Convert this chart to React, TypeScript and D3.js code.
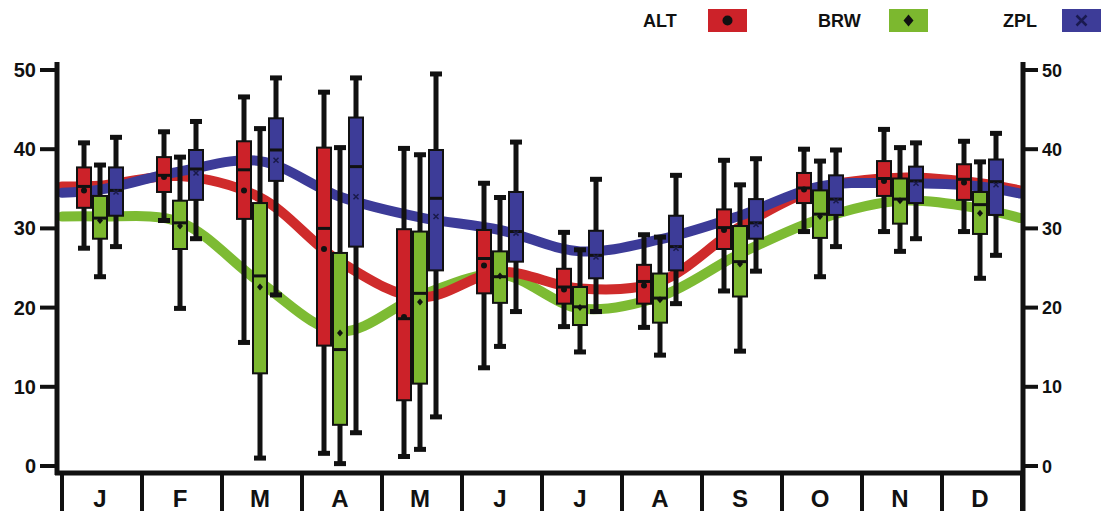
import React from "react";
import * as d3 from "d3";

const months = ["J", "F", "M", "A", "M", "J", "J", "A", "S", "O", "N", "D"];
const yTicks = [0, 10, 20, 30, 40, 50];
const stations = ["ALT", "BRW", "ZPL"];

// [low whisker, Q1, median, Q3, high whisker, mean]
const altBoxes = [
  [27.5, 32.6, 35.3, 37.7, 40.8, 34.8],
  [31, 34.6, 36.7, 39, 42.2, 36.5],
  [15.6, 31.2, 37.4, 41, 46.6, 34.8],
  [1.6, 15.2, 30, 40.2, 47.2, 27.4],
  [1.2, 8.3, 18.6, 29.9, 40.1, 18.8],
  [12.4, 21.8, 26.2, 29.8, 35.7, 25.3],
  [17.6, 20.5, 22.6, 24.9, 29.5, 22.3],
  [17.5, 20.5, 23.3, 25.4, 29.2, 22.8],
  [22.1, 27.4, 30.1, 32.4, 38.6, 29.8],
  [29.6, 33.2, 35.1, 37, 40, 34.9],
  [29.6, 34.1, 36.3, 38.5, 42.5, 36],
  [29.6, 33.6, 36.2, 38.1, 41, 35.8],
];
const brwBoxes = [
  [23.9, 28.7, 31.3, 34.1, 38, 31],
  [19.9, 27.4, 30.7, 33.5, 39, 30.3],
  [1, 11.7, 24, 33.2, 42.6, 22.6],
  [0.3, 5.2, 14.7, 26.9, 40.2, 16.8],
  [2.1, 10.4, 21.8, 29.6, 39.3, 20.7],
  [15.1, 20.6, 23.9, 27.1, 33.9, 24],
  [14.4, 17.8, 20.1, 22.6, 27.3, 20],
  [14, 18.1, 21.2, 24.3, 28.9, 21],
  [14.5, 21.4, 25.8, 30.3, 35.5, 25.5],
  [23.9, 28.8, 31.8, 34.8, 38.5, 31.5],
  [27.1, 30.6, 33.7, 36.3, 40.2, 33.5],
  [23.7, 29.3, 33, 34.6, 38.4, 31.9],
];
const zplBoxes = [
  [27.7, 31.6, 34.8, 37.7, 41.5, 34.6],
  [28.7, 33.6, 37.5, 39.9, 43.5, 37],
  [21.6, 36, 39.9, 43.9, 49, 38.6],
  [4.2, 27.7, 37.8, 44, 49, 34],
  [6.2, 24.7, 33.8, 39.9, 49.5, 31.5],
  [19.5, 25.8, 29.6, 34.6, 40.9, 29.4],
  [19.5, 23.7, 26.6, 29.7, 36.2, 26.4],
  [20.5, 24.7, 27.7, 31.6, 36.7, 27.5],
  [24.6, 28.7, 30.7, 33.7, 38.8, 30.5],
  [27.7, 31.7, 33.7, 36.7, 39.9, 33.5],
  [28.7, 33.2, 36, 37.8, 40.8, 35.7],
  [26.6, 31.7, 35.9, 38.7, 42, 35.5],
];

// smooth seasonal fits: [left edge, 12 months, right edge]
const altFit = [35.3, 35.4, 36.6, 33.9, 25.8, 21.3, 24.5, 22.4, 23.3, 30.2, 35.1, 36.4, 35.7, 34.8];
const brwFit = [31.5, 31.5, 30.8, 23.2, 17.0, 21.5, 24.2, 19.9, 21.4, 26.8, 31.2, 33.5, 32.5, 31.3];
const zplFit = [34.5, 34.9, 37.2, 38.5, 34.0, 31.4, 29.8, 27.1, 28.6, 31.6, 35.3, 35.7, 35.3, 34.4];

const fills = ["#cc2229", "#7cb82f", "#3d3c98"];
const lineColors = ["#cf2b2b", "#7dbb33", "#3c3b98"];

const W = 1106;
const H = 511;
const FONT = "'Liberation Sans', Arial, Helvetica, sans-serif";

export default function App() {
  const x = d3.scaleBand<number>().domain(d3.range(12)).range([62, 1022]);
  const y = d3.scaleLinear().domain([0, 50]).range([466, 70]);
  const bw = x.bandwidth();
  const groupCenter = (i: number) => (x(i) as number) + bw / 2 - 2;
  const offsets = [-16, 0, 16];
  const boxW = 14;

  const fitX = (k: number) => (k === 0 ? 62 : k === 13 ? 1020 : groupCenter(k - 1));
  const line = d3
    .line<number>()
    .x((_, k) => fitX(k))
    .y((v) => y(v))
    .curve(d3.curveCatmullRom.alpha(0.5));

  const allBoxes = [altBoxes, brwBoxes, zplBoxes];
  const fits = [altFit, brwFit, zplFit];

  const marker = (s: number, cx: number, cy: number) => {
    if (s === 0) return <circle cx={cx} cy={cy} r={3} fill="#111" />;
    if (s === 1)
      return <path d={`M${cx},${cy - 3.5}L${cx + 3},${cy}L${cx},${cy + 3.5}L${cx - 3},${cy}Z`} fill="#111" />;
    return (
      <path
        d={`M${cx - 2.5},${cy - 2.5}L${cx + 2.5},${cy + 2.5}M${cx + 2.5},${cy - 2.5}L${cx - 2.5},${cy + 2.5}`}
        stroke="#1a1a4a"
        strokeWidth={1.5}
      />
    );
  };

  const legendItems = [
    { tx: 643, rx: 708 },
    { tx: 818, rx: 889 },
    { tx: 1003, rx: 1062 },
  ];

  return (
    <svg
      width={W}
      height={H}
      style={{ position: "absolute", left: 0, top: 0, background: "#fff" }}
      fontFamily={FONT}
    >
      <rect width={W} height={H} fill="#fff" />
      {/* legend */}
      {stations.map((s, i) => {
        const L = legendItems[i];
        const cx = L.rx + 19.5;
        const cy = 20.5;
        return (
          <g key={s}>
            <text x={L.tx} y={27} fontSize={18} fontWeight="bold" fill="#111">
              {s}
            </text>
            <rect x={L.rx} y={9} width={39} height={23} fill={fills[i]} />
            {i === 0 && <circle cx={cx} cy={cy} r={5} fill="#111" />}
            {i === 1 && <path d={`M${cx},${cy - 6}L${cx + 5},${cy}L${cx},${cy + 6}L${cx - 5},${cy}Z`} fill="#111" />}
            {i === 2 && (
              <path
                d={`M${cx - 5},${cy - 5}L${cx + 5},${cy + 5}M${cx + 5},${cy - 5}L${cx - 5},${cy + 5}`}
                stroke="#1a1a50"
                strokeWidth={2.5}
              />
            )}
          </g>
        );
      })}

      {/* smooth fits */}
      {[1, 0, 2].map((s) => (
        <path
          key={"fit" + s}
          d={line(fits[s]) || ""}
          fill="none"
          stroke={lineColors[s]}
          strokeWidth={10}
          strokeLinecap="round"
        />
      ))}

      {/* boxes */}
      {months.map((m, i) => (
        <g key={"m" + i}>
          {allBoxes.map((boxes, s) => {
            const [lo, q1, med, q3, hi, mean] = boxes[i];
            const cx = groupCenter(i) + offsets[s];
            return (
              <g key={"b" + s}>
                <line x1={cx} x2={cx} y1={y(hi)} y2={y(lo)} stroke="#111" strokeWidth={5} />
                <rect x={cx - 6} y={y(hi) - 2.5} width={12} height={5} fill="#111" />
                <rect x={cx - 6} y={y(lo) - 2.5} width={12} height={5} fill="#111" />
                <rect
                  x={cx - boxW / 2}
                  y={y(q3)}
                  width={boxW}
                  height={y(q1) - y(q3)}
                  fill={fills[s]}
                  stroke="#111"
                  strokeWidth={2}
                />
                <line x1={cx - boxW / 2} x2={cx + boxW / 2} y1={y(med)} y2={y(med)} stroke="#111" strokeWidth={3} />
                {marker(s, cx, y(mean))}
              </g>
            );
          })}
        </g>
      ))}

      {/* left axis */}
      <line x1={57} x2={57} y1={62} y2={475} stroke="#111" strokeWidth={5} />
      {yTicks.map((t) => (
        <g key={"l" + t}>
          <line x1={40} x2={57} y1={y(t)} y2={y(t)} stroke="#111" strokeWidth={4} />
          <text x={36} y={y(t) + 7} textAnchor="end" fontSize={20} fontWeight="bold" fill="#111">
            {t}
          </text>
        </g>
      ))}

      {/* right axis */}
      <line x1={1023} x2={1023} y1={62} y2={511} stroke="#111" strokeWidth={5} />
      {yTicks.map((t) => (
        <g key={"r" + t}>
          <line x1={1023} x2={1038} y1={y(t)} y2={y(t)} stroke="#111" strokeWidth={4} />
          <text x={1042} y={y(t) + 6.5} textAnchor="start" fontSize={18} fontWeight="bold" fill="#111">
            {t}
          </text>
        </g>
      ))}

      {/* bottom axis */}
      <line x1={55} x2={1025} y1={473} y2={473} stroke="#111" strokeWidth={5} />
      {d3.range(13).map((k) => {
        const xx = k === 12 ? 1022 : (x(k) as number);
        return <line key={"sep" + k} x1={xx} x2={xx} y1={473} y2={511} stroke="#111" strokeWidth={4} />;
      })}
      {months.map((m, i) => (
        <text
          key={"lab" + i}
          x={(x(i) as number) + bw / 2 - 2}
          y={507}
          textAnchor="middle"
          fontSize={24}
          fontWeight="bold"
          fill="#111"
        >
          {m}
        </text>
      ))}
    </svg>
  );
}
